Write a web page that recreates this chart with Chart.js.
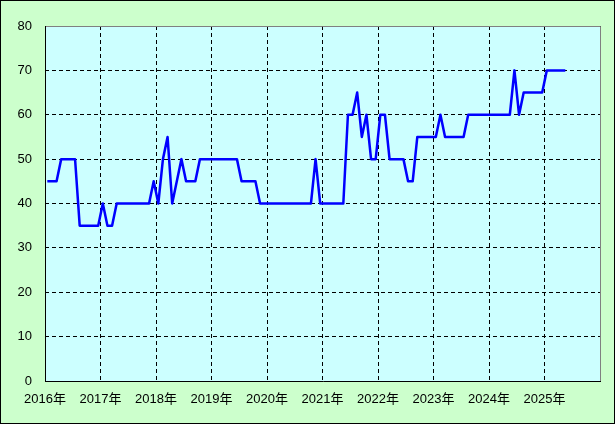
<!DOCTYPE html>
<html>
<head>
<meta charset="utf-8">
<title>chart</title>
<script src="https://cdn.jsdelivr.net/npm/chart.js"></script>
<style>
  body { margin: 0; background: #fff; }
  canvas { display: block; }
</style>
</head>
<body>
<canvas id="chart" width="615" height="424"></canvas>
<script>
// Data: one value per month, starting January 2016
const yearCount = 10;
const yearLabels = ["2016年", "2017年", "2018年", "2019年", "2020年", "2021年", "2022年", "2023年", "2024年", "2025年"];
const yTicks = [0, 10, 20, 30, 40, 50, 60, 70, 80];

const values2016 = [45, 45, 45, 50, 50, 50, 50, 35, 35, 35, 35, 35];
const values2017 = [40, 35, 35, 40, 40, 40, 40, 40, 40, 40, 40, 45];
const values2018 = [40, 50, 55, 40, 45, 50, 45, 45, 45, 50, 50, 50];
const values2019 = [50, 50, 50, 50, 50, 50, 45, 45, 45, 45, 40, 40];
const values2020 = [40, 40, 40, 40, 40, 40, 40, 40, 40, 40, 50, 40];
const values2021 = [40, 40, 40, 40, 40, 60, 60, 65, 55, 60, 50, 50];
const values2022 = [60, 60, 50, 50, 50, 50, 45, 45, 55, 55, 55, 55];
const values2023 = [55, 60, 55, 55, 55, 55, 55, 60, 60, 60, 60, 60];
const values2024 = [60, 60, 60, 60, 60, 70, 60, 65, 65, 65, 65, 65];
const values2025 = [70, 70, 70, 70, 70];

const monthly = [].concat(values2016, values2017, values2018, values2019, values2020,
  values2021, values2022, values2023, values2024, values2025);

// each month is plotted in the middle of its month on a month-based axis
const points = monthly.map((v, i) => ({ x: i + 0.5, y: v }));

// Background, plot fill and frame
const framePlugin = {
  id: "frame",
  beforeDraw(chart) {
    const ctx = chart.ctx;
    const a = chart.chartArea;
    ctx.save();
    ctx.fillStyle = "#ccffcc";
    ctx.fillRect(0, 0, chart.width, chart.height);
    ctx.strokeStyle = "#000";
    ctx.lineWidth = 1;
    ctx.strokeRect(0.5, 0.5, chart.width - 1, chart.height - 1);
    ctx.fillStyle = "#ccffff";
    ctx.fillRect(a.left, a.top, a.right - a.left, a.bottom - a.top);
    ctx.restore();
  },
  afterDatasetsDraw(chart) {
    const ctx = chart.ctx;
    const a = chart.chartArea;
    ctx.save();
    ctx.lineWidth = 1;
    ctx.strokeStyle = "#808080";
    ctx.beginPath();
    ctx.moveTo(a.left, a.top + 0.5);
    ctx.lineTo(a.right + 0.5, a.top + 0.5);
    ctx.lineTo(a.right + 0.5, a.bottom);
    ctx.stroke();
    ctx.strokeStyle = "#000";
    ctx.beginPath();
    ctx.moveTo(a.left + 0.5, a.top);
    ctx.lineTo(a.left + 0.5, a.bottom + 0.5);
    ctx.lineTo(a.right + 1, a.bottom + 0.5);
    ctx.stroke();
    ctx.restore();
  }
};

const font = { family: "'Liberation Sans', 'Noto Sans CJK JP', sans-serif", size: 13 };

new Chart(document.getElementById("chart"), {
  type: "line",
  data: {
    datasets: [{
      data: points,
      borderColor: "#0000ff",
      borderWidth: 2.5,
      borderJoinStyle: "round",
      pointRadius: 0,
      tension: 0,
      fill: false
    }]
  },
  options: {
    responsive: false,
    animation: false,
    layout: { padding: { top: 26, right: 15, left: 0, bottom: 0 } },
    plugins: { legend: { display: false }, tooltip: { enabled: false } },
    scales: {
      x: {
        type: "linear",
        min: 0,
        max: yearCount * 12,
        afterFit(scale) { scale.height = 43; },
        afterBuildTicks(scale) {
          scale.ticks = [];
          for (let i = 0; i <= yearCount; i++) scale.ticks.push({ value: i * 12 });
        },
        ticks: {
          color: "#000",
          font: font,
          padding: 11,
          maxRotation: 0,
          autoSkip: false,
          callback: (v) => yearLabels[v / 12] || ""
        },
        grid: { color: "#000", drawTicks: false, lineWidth: 1 },
        border: { display: false, dash: [4, 3] }
      },
      y: {
        min: 0,
        max: 80,
        afterFit(scale) { scale.width = 45; },
        afterBuildTicks(scale) {
          scale.ticks = yTicks.map((v) => ({ value: v }));
        },
        ticks: {
          color: "#000",
          font: font,
          padding: 13
        },
        grid: { color: "#000", drawTicks: false, lineWidth: 1 },
        border: { display: false, dash: [4, 3] }
      }
    }
  },
  plugins: [framePlugin]
});
</script>
</body>
</html>
